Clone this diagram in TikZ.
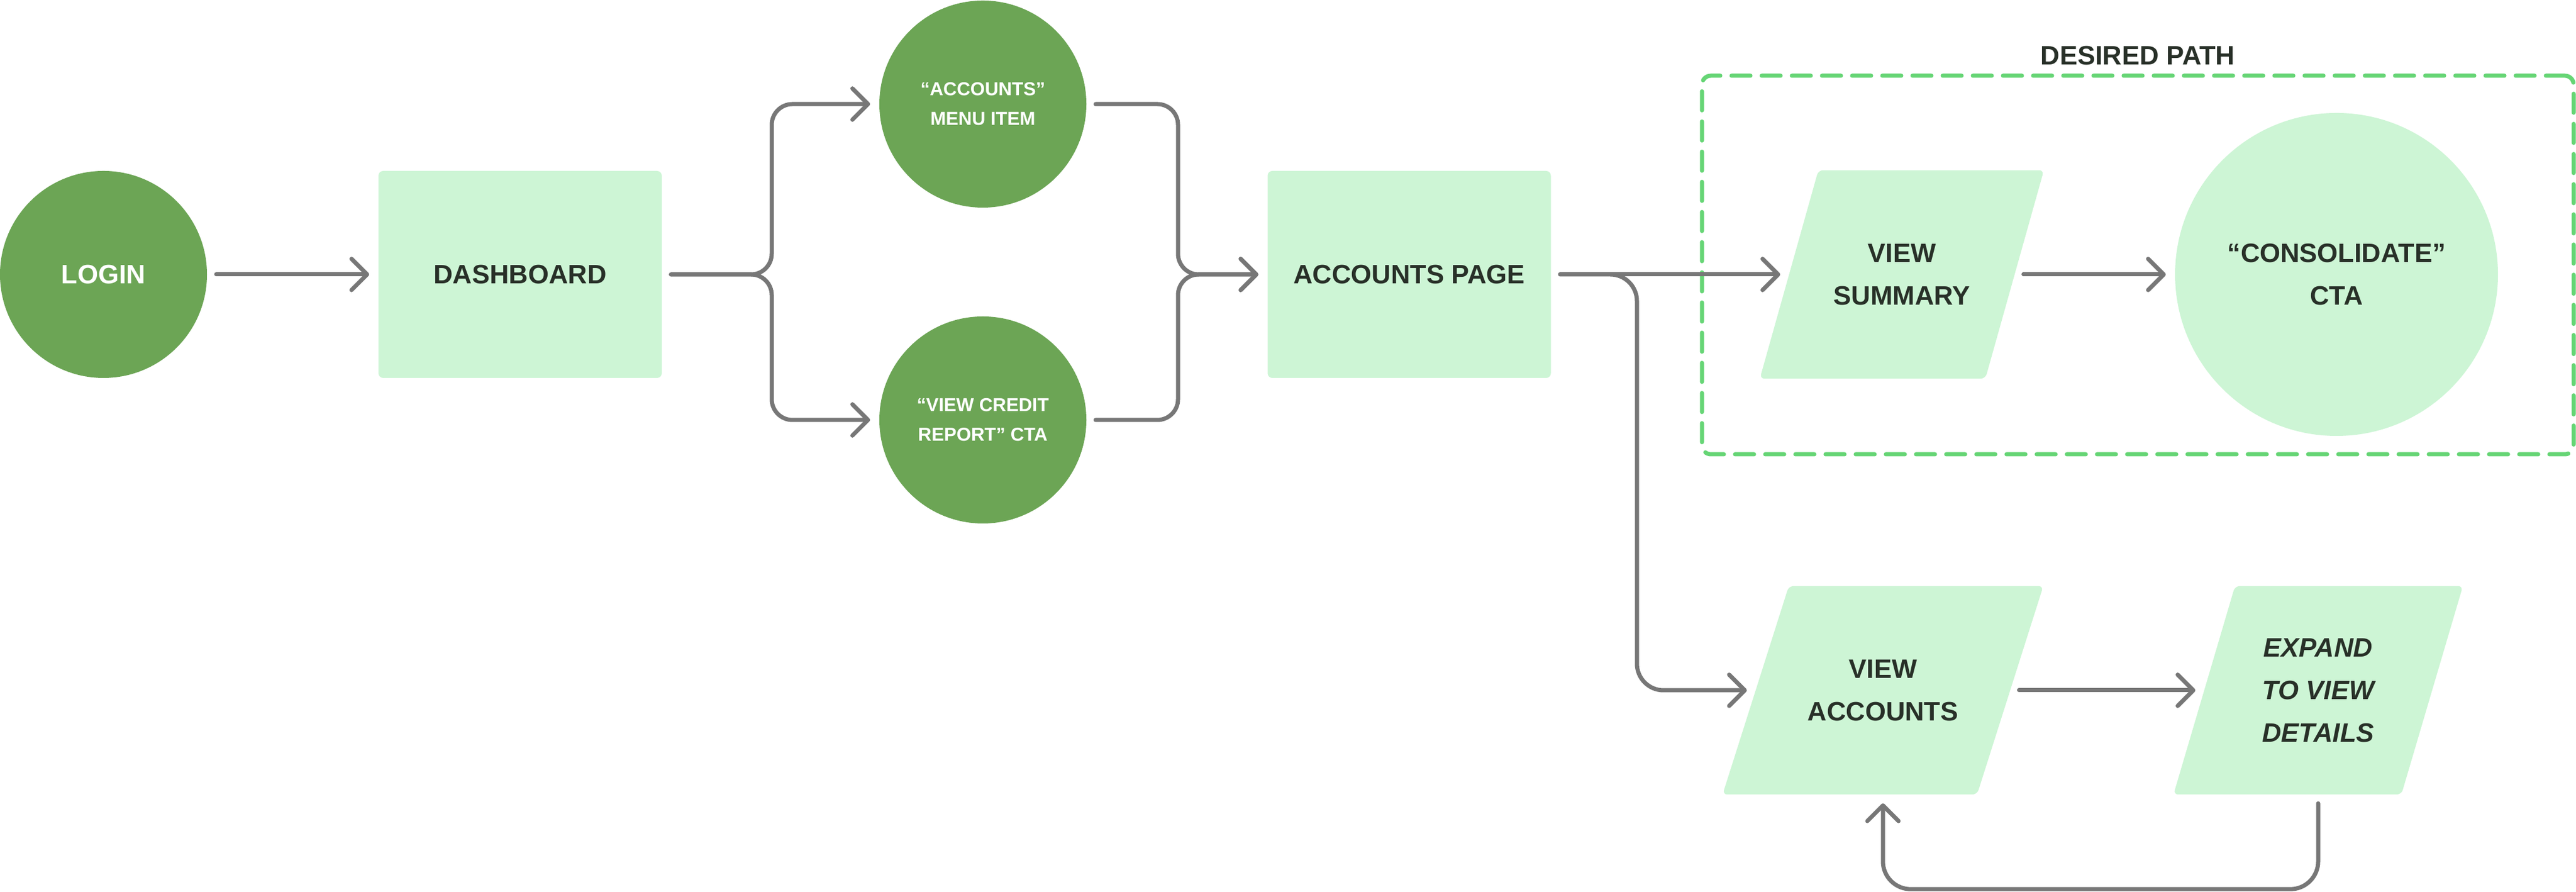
\documentclass[tikz,border=0pt]{standalone}
\usepackage{fontspec}
\setmainfont{Liberation Sans}
\usepackage{tikz}
\usetikzlibrary{positioning,arrows.meta,backgrounds}

\definecolor{darkleaf}{HTML}{6CA555}
\definecolor{paleleaf}{HTML}{CDF5D5}
\definecolor{pathgreen}{HTML}{66D575}
\definecolor{linkgray}{HTML}{777777}
\definecolor{inkdark}{HTML}{283028}

\tikzset{
  bigtxt/.style={font=\fontsize{12.8}{20.5}\selectfont\bfseries, align=center},
  slanttxt/.style={font=\fontsize{12.8}{20.5}\selectfont\bfseries\itshape, align=center},
  smalltxt/.style={font=\fontsize{9}{14.2}\selectfont\bfseries, align=center},
  darkdot/.style={circle, fill=darkleaf, text=white, minimum size=3.5cm, inner sep=0pt},
  paledot/.style={circle, fill=paleleaf, text=inkdark, minimum size=5.46cm, inner sep=0pt},
  panel/.style={rectangle, rounded corners=0.08cm, fill=paleleaf, text=inkdark, minimum width=4.79cm, minimum height=3.5cm, inner sep=0pt},
  slanted/.style={rectangle, text=inkdark, minimum height=3.51cm, inner sep=0pt},
  flow/.style={draw=linkgray, line width=2pt, line cap=round, line join=round, rounded corners=0.4cm, shorten <=0.15cm, shorten >=0.15cm, -{Straight Barb[length=7.5pt,width=15pt,round]}},
  pathbox/.style={draw=pathgreen, line width=2pt, dash pattern=on 0.32cm off 0.19cm, line cap=round, rounded corners=0.15cm, inner sep=0pt}
}

\begin{document}
\begin{tikzpicture}
	\useasboundingbox (0,0) rectangle (43.56,15.08);
	% desired path frame
	\node[pathbox, minimum width=14.74cm, minimum height=6.40cm] (desired) at (36.15,10.60) {};
	\node[bigtxt, text=inkdark, inner sep=0pt, above=0.14cm of desired] (desiredlbl) {DESIRED PATH};
	% steps
	\node[darkdot, bigtxt] (login) at (1.75,10.44) {LOGIN};
	\node[panel, bigtxt] (dash) at (8.795,10.44) {DASHBOARD};
	\node[darkdot, smalltxt] (menu) at (16.62,13.32) {“ACCOUNTS”\\MENU ITEM};
	\node[darkdot, smalltxt] (credit) at (16.62,7.98) {“VIEW CREDIT\\REPORT” CTA};
	\node[panel, bigtxt] (accpage) at (23.83,10.44) {ACCOUNTS PAGE};
	\node[slanted, bigtxt, minimum width=3.80cm] (summary) at (32.16,10.44) {VIEW\\SUMMARY};
	\node[paledot, bigtxt] (consol) at (39.51,10.44) {“CONSOLIDATE”\\CTA};
	\node[slanted, bigtxt, minimum width=4.29cm] (viewacc) at (31.84,3.41) {VIEW\\ACCOUNTS};
	\node[slanted, slanttxt, minimum width=3.84cm] (expand) at (39.20,3.41) {EXPAND\\TO VIEW\\DETAILS};
	% slanted fills
	\begin{scope}[on background layer]
		\foreach \n/\s in {summary/0.99, viewacc/1.12, expand/1.04}
			\fill[paleleaf, rounded corners=0.08cm] ([xshift={-\s*0.5cm}]\n.south west) -- ([xshift={-\s*0.5cm}]\n.south east) -- ([xshift={\s*0.5cm}]\n.north east) -- ([xshift={\s*0.5cm}]\n.north west) -- cycle;
	\end{scope}
	% turning points
	\coordinate (split) at (13.05,10.44);
	\coordinate (merge) at (19.92,10.44);
	\coordinate (fork) at (27.68,10.44);
	% connectors
	\draw[flow] (login.east) -- (dash.west);
	\draw[flow, rounded corners=0.35cm] (dash.east) -- (split) |- (menu.west);
	\draw[flow, rounded corners=0.35cm] (dash.east) -- (split) |- (credit.west);
	\draw[flow, rounded corners=0.35cm] (menu.east) -| (merge) -- (accpage.west);
	\draw[flow, rounded corners=0.35cm] (credit.east) -| (merge) -- (accpage.west);
	\draw[flow] (accpage.east) -- (summary.west);
	\draw[flow, rounded corners=0.45cm] (accpage.east) -- (fork) |- (viewacc.west);
	\draw[flow] (summary.east) -- (consol.west);
	\draw[flow] (viewacc.east) -- (expand.west);
	\draw[flow, rounded corners=0.47cm] (expand.south) -- ++(0,-1.60) -| (viewacc.south);
\end{tikzpicture}
\end{document}
